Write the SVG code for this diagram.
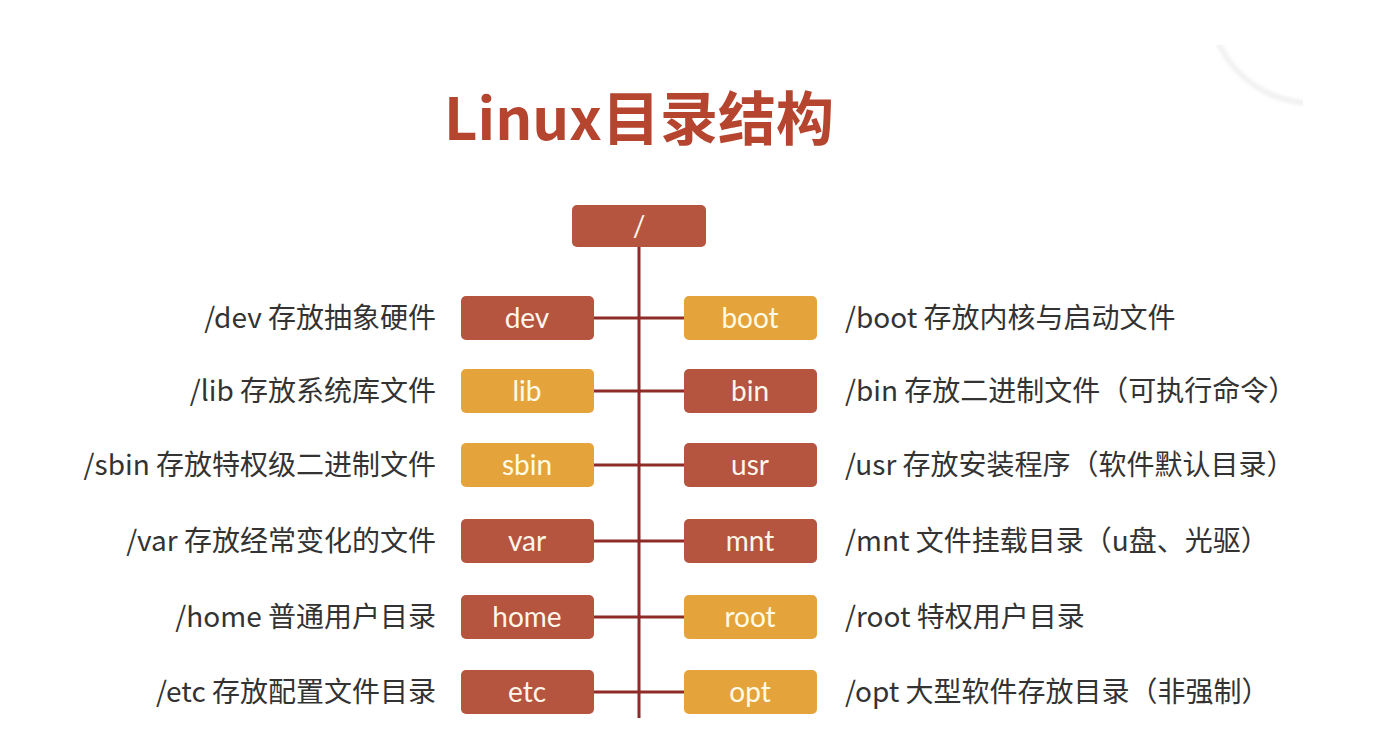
<svg xmlns="http://www.w3.org/2000/svg" width="1398" height="747" viewBox="0 0 1398 747">
<defs>
<style>
.bg{fill:#ffffff}
.title{font-family:"Noto Sans CJK SC","Noto Sans",sans-serif;font-weight:700;font-size:58px;fill:#b5452f}
.box-d{fill:#b5543f}
.box-l{fill:#e5a43b}
.bt{font-family:Lato,"Open Sans",sans-serif;font-size:28px;fill:#fdf6ea;text-anchor:middle}
.bt-l{fill:#fffbe6}
.lbl{font-family:"Noto Sans CJK SC","Noto Sans",sans-serif;font-size:28px;fill:#333333}
.lbl-l{text-anchor:end}
.conn{stroke:#8e2b26;stroke-width:3;fill:none}
</style>
<clipPath id="cornerClip"><rect x="1180" y="45" width="123" height="120"/></clipPath>
<filter id="blur" x="-20%" y="-20%" width="140%" height="140%"><feGaussianBlur stdDeviation="2"/></filter>
</defs>
<rect class="bg" x="0" y="0" width="1398" height="747"/>
<g clip-path="url(#cornerClip)">
<circle cx="1312" cy="0" r="103" fill="none" stroke="#e6e6e6" stroke-width="3" filter="url(#blur)"/>
</g>
<text class="title" x="444" y="140">Linux目录结构</text>

<g id="connectors">
<line class="conn" x1="639" y1="247" x2="639" y2="718"/>
<line class="conn" x1="594" y1="318" x2="684" y2="318"/>
<line class="conn" x1="594" y1="391" x2="684" y2="391"/>
<line class="conn" x1="594" y1="465" x2="684" y2="465"/>
<line class="conn" x1="594" y1="541" x2="684" y2="541"/>
<line class="conn" x1="594" y1="617" x2="684" y2="617"/>
<line class="conn" x1="594" y1="692" x2="684" y2="692"/>
</g>

<g id="root">
<rect class="box-d" x="572" y="205" width="134" height="42" rx="5"/>
<text class="bt" x="639" y="236">/</text>
</g>

<g id="dev">
<rect class="box-d" x="461" y="296" width="133" height="44" rx="5"/>
<text class="bt" x="527" y="328">dev</text>
<text class="lbl lbl-l" x="436" y="328">/dev 存放抽象硬件</text>
</g>
<g id="lib">
<rect class="box-l" x="461" y="369" width="133" height="44" rx="5"/>
<text class="bt bt-l" x="527" y="401">lib</text>
<text class="lbl lbl-l" x="436" y="401">/lib 存放系统库文件</text>
</g>
<g id="sbin">
<rect class="box-l" x="461" y="443" width="133" height="44" rx="5"/>
<text class="bt bt-l" x="527" y="475">sbin</text>
<text class="lbl lbl-l" x="436" y="475">/sbin 存放特权级二进制文件</text>
</g>
<g id="var">
<rect class="box-d" x="461" y="519" width="133" height="44" rx="5"/>
<text class="bt" x="527" y="551">var</text>
<text class="lbl lbl-l" x="436" y="551">/var 存放经常变化的文件</text>
</g>
<g id="home">
<rect class="box-d" x="461" y="595" width="133" height="44" rx="5"/>
<text class="bt" x="527" y="627">home</text>
<text class="lbl lbl-l" x="436" y="627">/home 普通用户目录</text>
</g>
<g id="etc">
<rect class="box-d" x="461" y="670" width="133" height="44" rx="5"/>
<text class="bt" x="527" y="702">etc</text>
<text class="lbl lbl-l" x="436" y="702">/etc 存放配置文件目录</text>
</g>

<g id="boot">
<rect class="box-l" x="684" y="296" width="133" height="44" rx="5"/>
<text class="bt bt-l" x="750" y="328">boot</text>
<text class="lbl" x="845" y="328">/boot 存放内核与启动文件</text>
</g>
<g id="bin">
<rect class="box-d" x="684" y="369" width="133" height="44" rx="5"/>
<text class="bt" x="750" y="401">bin</text>
<text class="lbl" x="845" y="401">/bin 存放二进制文件（可执行命令）</text>
</g>
<g id="usr">
<rect class="box-d" x="684" y="443" width="133" height="44" rx="5"/>
<text class="bt" x="750" y="475">usr</text>
<text class="lbl" x="845" y="475">/usr 存放安装程序（软件默认目录）</text>
</g>
<g id="mnt">
<rect class="box-d" x="684" y="519" width="133" height="44" rx="5"/>
<text class="bt" x="750" y="551">mnt</text>
<text class="lbl" x="845" y="551">/mnt 文件挂载目录（u盘、光驱）</text>
</g>
<g id="rootdir">
<rect class="box-l" x="684" y="595" width="133" height="44" rx="5"/>
<text class="bt bt-l" x="750" y="627">root</text>
<text class="lbl" x="845" y="627">/root 特权用户目录</text>
</g>
<g id="opt">
<rect class="box-l" x="684" y="670" width="133" height="44" rx="5"/>
<text class="bt bt-l" x="750" y="702">opt</text>
<text class="lbl" x="845" y="702">/opt 大型软件存放目录（非强制）</text>
</g>
</svg>
